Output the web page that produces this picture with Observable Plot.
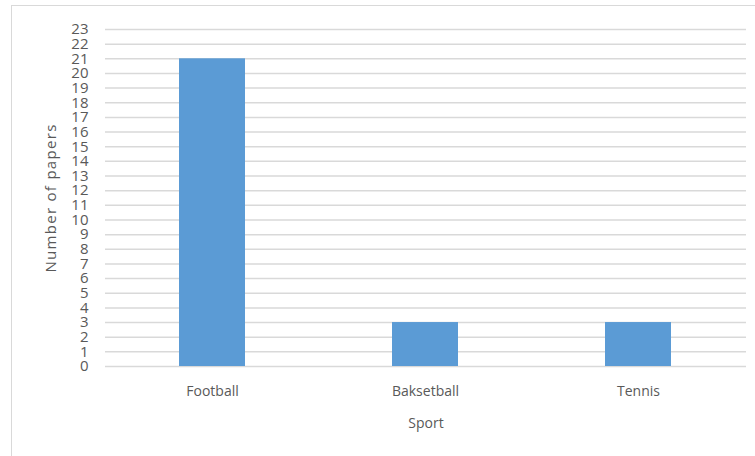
<!DOCTYPE html>
<html>
<head>
<meta charset="utf-8">
<script src="https://cdn.jsdelivr.net/npm/d3@7"></script>
<script src="https://cdn.jsdelivr.net/npm/@observablehq/plot@0.6"></script>
<style>
  html, body { margin: 0; padding: 0; background: #fff; width: 755px; height: 456px; overflow: hidden; }
  #frame { position: absolute; left: 11px; top: 5px; width: 760px; height: 470px; border: 1px solid #d9d9d9; box-sizing: border-box; }
  #chart { position: absolute; left: 0; top: 0; }
  #chart svg text { fill: #595959; }
  #chart [aria-label="y-axis label"] text { letter-spacing: 1.3px; }
</style>
</head>
<body>
<div id="frame"></div>
<div id="chart"></div>
<script>
const sports = ["Football", "Baksetball", "Tennis"];
const papers = [21, 3, 3];
const yTicks = d3.range(0, 24);
const yLabel = "Number of papers";
const xLabel = "Sport";

const data = sports.map((s, i) => ({sport: s, papers: papers[i]}));

const chart = Plot.plot({
  width: 755,
  height: 456,
  marginLeft: 105,
  marginRight: 9,
  marginTop: 29,
  marginBottom: 90,
  style: {fontFamily: "'Open Sans', sans-serif", fontSize: "14px", color: "#595959", background: "transparent"},
  x: {domain: sports, paddingInner: 0.69, paddingOuter: 0.345, label: null},
  y: {domain: [0, 23], label: null},
  marks: [
    Plot.gridY(yTicks, {stroke: "#d9d9d9", strokeOpacity: 1, strokeWidth: 1.5}),
    Plot.barY(data, {x: "sport", y: "papers", fill: "#5b9bd5"}),
    Plot.axisY(yTicks, {tickSize: 0, tickPadding: 17, fontSize: 15, label: yLabel, labelAnchor: "center", labelArrow: "none", labelOffset: 60, tickFormat: d => String(d)}),
    Plot.axisX({tickSize: 0, tickPadding: 20, fontSize: 14, label: xLabel, labelAnchor: "center", labelArrow: "none", labelOffset: 61})
  ]
});
document.getElementById("chart").appendChild(chart);
</script>
</body>
</html>
